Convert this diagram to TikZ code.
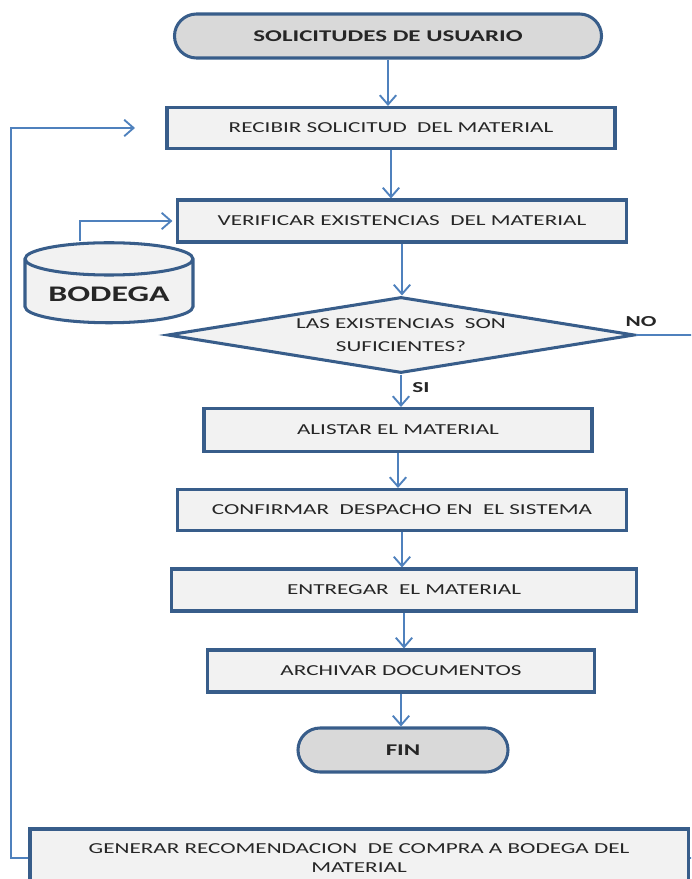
\documentclass[tikz,border=0pt]{standalone}
\usepackage{fontspec}
\setmainfont{Carlito}[FakeStretch=1.52]
\usetikzlibrary{shapes.geometric,arrows.meta}
\definecolor{borde}{HTML}{385D8A}
\definecolor{linea}{HTML}{4F81BD}
\definecolor{relleno}{HTML}{F2F2F2}
\definecolor{gris}{HTML}{D9D9D9}
\definecolor{texto}{HTML}{262626}
\tikzset{
  proceso/.style={draw=borde, line width=2.6pt, fill=relleno, text=texto,
    font=\fontsize{13}{16}\selectfont, inner sep=0pt, align=center},
  terminal/.style={draw=borde, line width=2.6pt, fill=gris, text=texto,
    rounded corners=0.66cm, minimum height=1.32cm,
    font=\bfseries\fontsize{14}{16}\selectfont},
  decision/.style={diamond, draw=borde, line width=2.6pt, fill=relleno, text=texto,
    inner sep=0pt, aspect=6, align=center, font=\fontsize{13}{20}\selectfont},
  almacen/.style={cylinder, shape border rotate=90, draw=borde, line width=2.6pt,
    fill=relleno, text=texto, aspect=0.25, font=\bfseries\fontsize{19}{22}\selectfont},
  etiqueta/.style={text=texto, font=\bfseries\fontsize{13}{15}\selectfont},
  flecha/.style={draw=linea, line width=1.6pt, -{Straight Barb[length=8pt,width=14pt]}},
  linea/.style={draw=linea, line width=1.6pt},
}
\begin{document}
\begin{tikzpicture}[x=0.03cm, y=-0.03cm]
\useasboundingbox (0,0) rectangle (691,879);
\clip (0,0) rectangle (691,879);

% nodos del flujo
\node[terminal, minimum width=12.81cm] (inicio) at (388,36) {SOLICITUDES DE USUARIO};
\node[proceso, minimum width=13.44cm, minimum height=1.23cm] (recibir) at (391,128) {RECIBIR SOLICITUD \ DEL MATERIAL};
\node[proceso, minimum width=13.47cm, minimum height=1.26cm] (verificar) at (402,221) {VERIFICAR EXISTENCIAS \ DEL MATERIAL};
\node[almacen, minimum width=5.04cm, minimum height=2.4cm] (bodega) at (109,294) {BODEGA};
\node[decision, minimum width=14.01cm, minimum height=2.28cm] (existencias) at (401,335) {LAS EXISTENCIAS \ SON\\SUFICIENTES?};
\node[etiqueta] (no) at (641,322) {NO};
\node[etiqueta] (si) at (421,388) {SI};
\node[proceso, minimum width=11.64cm, minimum height=1.29cm] (alistar) at (398,430) {ALISTAR EL MATERIAL};
\node[proceso, minimum width=13.47cm, minimum height=1.23cm] (confirmar) at (402,510) {CONFIRMAR \ DESPACHO EN \ EL SISTEMA};
\node[proceso, minimum width=13.95cm, minimum height=1.26cm] (entregar) at (404,590) {ENTREGAR \ EL MATERIAL};
\node[proceso, minimum width=11.61cm, minimum height=1.26cm] (archivar) at (401,671) {ARCHIVAR DOCUMENTOS};
\node[terminal, minimum width=6.3cm] (fin) at (403,750) {FIN};
\node[proceso, minimum width=19.74cm, minimum height=1.74cm] (generar) at (359,858) {GENERAR RECOMENDACION \ DE COMPRA A BODEGA DEL\\MATERIAL};
\coordinate (entrada) at (135,128);

% conectores
\draw[flecha] (inicio.south) -- (inicio.south |- recibir.north);
\draw[flecha] (recibir.south) -- (recibir.south |- verificar.north);
\draw[flecha] (verificar.south) -- (verificar.south |- existencias.north);
\draw[flecha] (existencias.south) -- (existencias.south |- alistar.north);
\draw[flecha] (alistar.south) -- (alistar.south |- confirmar.north);
\draw[flecha] (confirmar.south) -- (confirmar.south |- entregar.north);
\draw[flecha] (entregar.south) -- (entregar.south |- archivar.north);
\draw[flecha] (archivar.south) -- (archivar.south |- fin.north);
\draw[flecha] ([xshift=-0.87cm]bodega.north) |- ([xshift=-3pt]verificar.west);
\draw[linea] (existencias.east) -- (720,335) |- (generar.east);
\draw[flecha] (generar.west) -- (11,858) |- (entrada);
\end{tikzpicture}
\end{document}
